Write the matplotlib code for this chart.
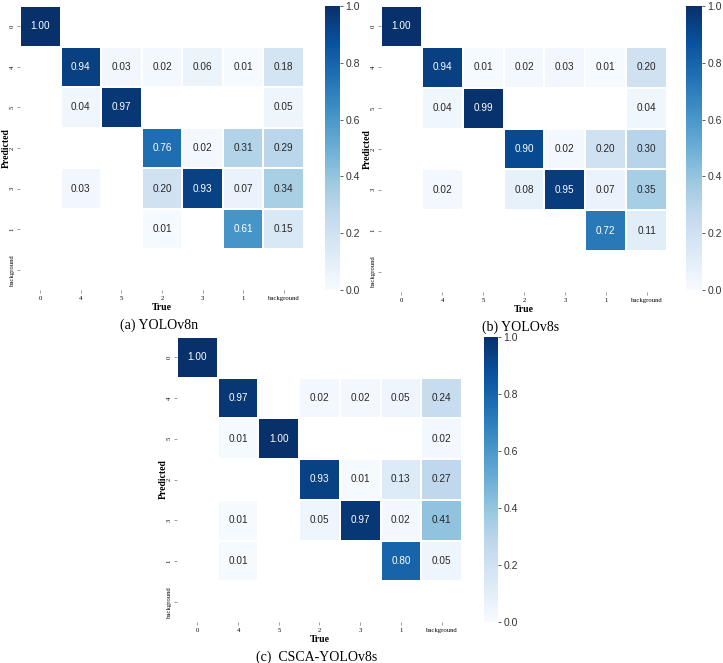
import numpy as np
import matplotlib
matplotlib.use("Agg")
import matplotlib.pyplot as plt
import seaborn as sns

W, H = 723, 663

# class order on both axes
labels = ['0', '4', '5', '2', '3', '1', 'background']
cbar_ticks = [0, 0.2, 0.4, 0.6, 0.8, 1.0]

# (a) YOLOv8n, rows = predicted, cols = true
cm_v8n = [
    [1.00, 0, 0, 0, 0, 0, 0],
    [0, 0.94, 0.03, 0.02, 0.06, 0.01, 0.18],
    [0, 0.04, 0.97, 0, 0, 0, 0.05],
    [0, 0, 0, 0.76, 0.02, 0.31, 0.29],
    [0, 0.03, 0, 0.20, 0.93, 0.07, 0.34],
    [0, 0, 0, 0.01, 0, 0.61, 0.15],
    [0, 0, 0, 0, 0, 0, 0],
]

# (b) YOLOv8s
cm_v8s = [
    [1.00, 0, 0, 0, 0, 0, 0],
    [0, 0.94, 0.01, 0.02, 0.03, 0.01, 0.20],
    [0, 0.04, 0.99, 0, 0, 0, 0.04],
    [0, 0, 0, 0.90, 0.02, 0.20, 0.30],
    [0, 0.02, 0, 0.08, 0.95, 0.07, 0.35],
    [0, 0, 0, 0, 0, 0.72, 0.11],
    [0, 0, 0, 0, 0, 0, 0],
]

# (c) CSCA-YOLOv8s
cm_csca = [
    [1.00, 0, 0, 0, 0, 0, 0],
    [0, 0.97, 0, 0.02, 0.02, 0.05, 0.24],
    [0, 0.01, 1.00, 0, 0, 0, 0.02],
    [0, 0, 0, 0.93, 0.01, 0.13, 0.27],
    [0, 0.01, 0, 0.05, 0.97, 0.02, 0.41],
    [0, 0.01, 0, 0, 0, 0.80, 0.05],
    [0, 0, 0, 0, 0, 0, 0],
]

titles = ['(a) YOLOv8n', '(b) YOLOv8s', '(c)  CSCA-YOLOv8s']

SERIF = ['Liberation Serif', 'DejaVu Serif']
SANS = ['Liberation Sans', 'DejaVu Sans']


def box(x0, y0, w, h):
    # pixel box (top-left origin) -> figure fraction
    return [x0 / W, 1 - (y0 + h) / H, w / W, h / H]


def panel(fig, cm, title, hx, hy, hs, cx, cw, ch):
    cm = np.array(cm, dtype=float)
    ax = fig.add_axes(box(hx, hy, hs, hs))
    cax = fig.add_axes(box(cx, hy, cw, ch))
    sns.heatmap(cm, ax=ax, cbar_ax=cax, cmap='Blues', vmin=0, vmax=1,
                mask=cm < 0.005, annot=True, fmt='.2f',
                annot_kws={'size': 7.2, 'family': SANS},
                linewidths=0.2, linecolor='white',
                xticklabels=labels, yticklabels=labels)
    ax.tick_params(length=2, width=0.4, color='#555555', pad=2)
    for t in ax.get_xticklabels():
        t.set_fontfamily(SERIF)
        t.set_fontsize(4.8)
        t.set_rotation(0)
    for t in ax.get_yticklabels():
        t.set_fontfamily(SERIF)
        t.set_fontsize(4.8)
        t.set_rotation(90)
        t.set_va('center')
    cax.set_yticks(cbar_ticks)
    cax.set_yticklabels(['%.1f' % v for v in cbar_ticks], family=SANS,
                        fontsize=7.5, color='#333333')
    cax.tick_params(length=2.5, width=0.6, color='#444444', pad=1.5)

    # axis labels and caption in pixel coordinates
    xc = hx + hs / 2
    fig.text(xc / W, 1 - (hy + hs + 17) / H, 'True', ha='center', va='center',
             family=SERIF, weight='bold', fontsize=7)
    fig.text((hx - 14) / W, 1 - (hy + hs / 2) / H, 'Predicted', ha='center',
             va='center', rotation=90, family=SERIF, weight='bold', fontsize=7)
    fig.text((xc - 3) / W, 1 - (hy + hs + 35) / H, title, ha='center',
             va='center', family=SERIF, fontsize=10)


fig = plt.figure(figsize=(W / 100, H / 100), dpi=100)
panel(fig, cm_v8n, titles[0], 20, 6, 284, 325, 15, 284)
panel(fig, cm_v8s, titles[1], 381, 6, 286, 686, 16, 284)
panel(fig, cm_csca, titles[2], 177, 337, 285, 484, 14, 285)

fig.savefig('out.png', dpi=100)
